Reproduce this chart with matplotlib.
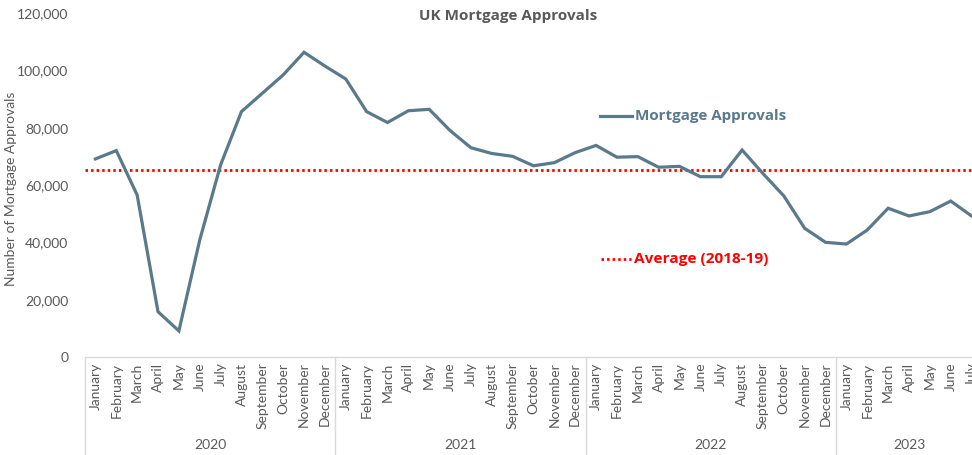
import matplotlib
matplotlib.use("Agg")
import matplotlib.pyplot as plt
import matplotlib.transforms as mtransforms
from matplotlib.lines import Line2D

plt.rcParams['font.family'] = ['Lato', 'DejaVu Sans']
bold_family = ['Open Sans', 'DejaVu Sans']

years = ["2020", "2021", "2022", "2023"]
months = ["January", "February", "March", "April", "May", "June", "July",
          "August", "September", "October", "November", "December"]
months_per_year = [12, 12, 12, 7]

approvals = [
    69100, 72000, 56500, 15800, 9100, 40800, 67000, 85600, 92000, 98400, 106300, 101500,
    97000, 85600, 81800, 85900, 86400, 79000, 73000, 71000, 70000, 66700, 67800, 71300,
    73800, 69700, 69900, 66200, 66500, 62900, 62900, 72200, 64000, 56200, 44900, 40000,
    39400, 44300, 51900, 49200, 50700, 54400, 49200,
]
average_2018_19 = 65300

month_labels = []
for n in months_per_year:
    month_labels += months[:n]

line_color = "#5a7a8c"
text_gray = "#595959"
red = "#ff0000"
dotted = (0, (0.9, 1.1))

W, H = 972, 455
fig = plt.figure(figsize=(W / 100, H / 100), dpi=100)
left_px, right_px, top_px, bottom_px = 85, 982, 13, 357
ax = fig.add_axes([left_px / W, 1 - bottom_px / H,
                   (right_px - left_px) / W, (bottom_px - top_px) / H])

x = list(range(len(approvals)))
ax.plot(x, approvals, color=line_color, lw=2.3, solid_joinstyle="miter", zorder=3)
ax.axhline(average_2018_19, color=red, lw=2.0, ls=dotted, zorder=2)

ax.set_xlim(-0.5, len(approvals) - 0.5)
ax.set_ylim(0, 120000)
ax.set_yticks(range(0, 120001, 20000))
ax.set_yticklabels([f"{v:,}" for v in range(0, 120001, 20000)],
                   fontsize=10, color=text_gray)
ax.set_xticks(x)
ax.set_xticklabels(month_labels, rotation=90, fontsize=10, color=text_gray)
ax.tick_params(axis="both", length=0)
ax.tick_params(axis="y", pad=12)
ax.tick_params(axis="x", pad=4)

for side in ("top", "right", "left"):
    ax.spines[side].set_visible(False)
ax.spines["bottom"].set_color("#d9d9d9")
ax.spines["bottom"].set_linewidth(1.0)

ax.set_ylabel("Number of Mortgage Approvals", fontsize=10, color=text_gray)
ax.yaxis.set_label_coords(-(85 - 17) / (right_px - left_px), 0.49)

# year group separators and labels beneath the month labels
trans = mtransforms.blended_transform_factory(ax.transData, ax.transAxes)
start = -0.5
drop = (H - bottom_px) / (bottom_px - top_px)
for yr, n in zip(years, months_per_year):
    ax.add_line(Line2D([start, start], [0, -drop - 0.01], transform=trans,
                       color="#d9d9d9", lw=1.0, clip_on=False))
    ax.text(start + n / 2, -(445 - bottom_px) / (bottom_px - top_px), yr,
            transform=trans, ha="center", va="center", fontsize=10, color=text_gray)
    start += n
ax.add_line(Line2D([start, start], [0, -drop - 0.01], transform=trans,
                   color="#d9d9d9", lw=1.0, clip_on=False))

fig.text(508 / W, 1 - 16 / H, "UK Mortgage Approvals", ha="center", va="center",
         fontsize=11, fontweight="bold", color="#595959", family=bold_family)

# legend entries drawn in figure space
fig.add_artist(Line2D([600 / W, 632 / W], [1 - 116 / H, 1 - 116 / H],
                      color=line_color, lw=2.3, transform=fig.transFigure))
fig.text(635 / W, 1 - 116 / H, "Mortgage Approvals", ha="left", va="center",
         fontsize=10.9, fontweight="bold", color=line_color, family=bold_family)
fig.add_artist(Line2D([601 / W, 631 / W], [1 - 259 / H, 1 - 259 / H],
                      color=red, lw=2.0, ls=dotted, transform=fig.transFigure))
fig.text(634 / W, 1 - 259 / H, "Average (2018-19)", ha="left", va="center",
         fontsize=11.1, fontweight="bold", color=red, family=bold_family)

fig.savefig("out.png", dpi=100)
